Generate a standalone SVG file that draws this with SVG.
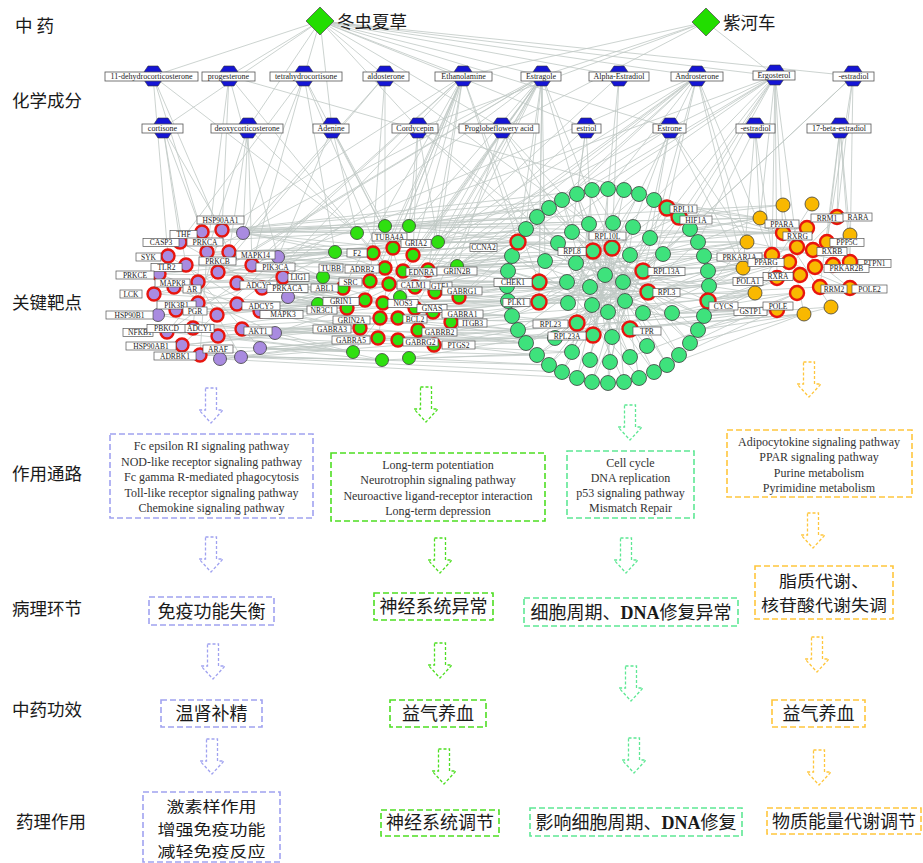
<svg xmlns="http://www.w3.org/2000/svg" xmlns:xlink="http://www.w3.org/1999/xlink" width="923" height="863" viewBox="0 0 923 863">
<style>
.e{fill:none;stroke:#bfc8c4;stroke-width:.8}
.lab{font-family:"Noto Sans CJK SC","Noto Sans",sans-serif;font-size:17.5px;fill:#1a1a1a}
.herb{fill:#22dd00;stroke:#555;stroke-width:.8}
.hx{fill:#1515d5;stroke:#333;stroke-width:.6}
.cb{fill:#fff;stroke:#555;stroke-width:.8}
.ct{font-family:"Liberation Serif",serif;font-size:8px;fill:#222;text-anchor:middle}
.tb{fill:#fff;stroke:#555;stroke-width:.7}
.tt{font-family:"Liberation Serif",serif;font-size:7.5px;fill:#222;text-anchor:middle}
.c1{fill:#a98be0;stroke:#3d3d3d;stroke-width:.8}
.c2{fill:#2fe010;stroke:#3d3d3d;stroke-width:.8}
.c3{fill:#3ee27c;stroke:#3d3d3d;stroke-width:.8}
.c4{fill:#f9b800;stroke:#3d3d3d;stroke-width:.8}
.red{stroke:#e8150e;stroke-width:2.4}
.bx{fill:none;stroke-width:1.6;stroke-dasharray:6 3}
.ar{fill:none;stroke-width:1.3;stroke-dasharray:3 2}
.pu{stroke:#a0a2f0}
.g2{stroke:#4ede22}
.g3{stroke:#5ee894}
.or{stroke:#ffc63c}
.pt{font-family:"Liberation Serif",serif;font-size:12px;fill:#333;text-anchor:middle}
.zh{font-family:"Noto Sans CJK SC","Noto Sans",sans-serif;font-size:18px;fill:#1a1a1a;text-anchor:middle}
.dna{font-family:"Liberation Serif",serif;font-weight:bold}
</style>
<defs>
<polygon id="hex" points="-5,-10 5,-10 9,-4 9,4 5,10 -5,10 -9,4 -9,-4"/>
<path id="arr" d="M-5.5 0H5.5V22H12L0 35L-12 22H-5.5Z"/>
</defs>
<rect width="923" height="863" fill="#fff"/>

<g id="connectors">
<path class="e" d="M320 21L153 76M320 21L229 76M320 21L304 76M320 21L385 76M320 21L463 76M320 21L542 76M320 21L619 76M320 21L697 76M320 21L775 76M320 21L853 76M320 21L163 128M320 21L248 128M320 21L332 128M320 21L418 128M320 21L502 128M320 21L586 128M320 21L670 128M706 22L463 76M706 22L542 76M706 22L418 128M706 22L775 76M706 22L502 128"/>
<path class="e" d="M153 76L202 232M153 76L168 256M153 76L229 252M153 76L357 233M229 76L222 230M229 76L207 252M229 76L278 257M229 76L373 253M229 76L783 233M304 76L180 242M304 76L252 265M304 76L393 248M304 76L243 233M304 76L385 268M304 76L335 252M385 76L229 252M385 76L385 226M385 76L370 281M385 76L218 272M385 76L589 224M463 76L393 248M463 76L413 255M463 76L428 270M463 76L385 268M463 76L370 281M463 76L343 288M463 76L365 300M463 76L222 230M463 76L252 265M463 76L237 283M463 76L262 288M463 76L518 242M463 76L539 282M463 76L409 226M463 76L438 242M542 76L393 248M542 76L413 255M542 76L403 271M542 76L389 284M542 76L415 287M542 76L435 292M542 76L383 303M542 76L207 252M542 76L218 272M542 76L198 282M542 76L518 242M542 76L526 229M542 76L593 251M542 76L612 248M542 76L545 261M542 76L539 282M542 76L539 302M542 76L428 270M542 76L415 308M542 76L237 304M619 76L613 223M619 76L608 189M619 76L438 242M697 76L413 255M697 76L457 266M697 76L415 287M697 76L459 297M697 76L612 248M697 76L643 271M697 76L648 292M697 76L549 208M697 76L608 189M697 76L747 242M697 76L772 255M697 76L743 268M697 76L252 265M697 76L428 270M775 76L457 266M775 76L435 292M775 76L459 297M775 76L650 238M775 76L663 254M775 76L654 200M775 76L690 229M775 76L760 218M775 76L783 233M775 76L797 247M775 76L772 255M775 76L777 278M775 76L643 271M775 76L438 242M775 76L278 257M853 76L827 242M853 76L837 217M853 76L850 262M853 76L690 229M853 76L663 254M163 128L180 242M163 128L202 232M163 128L222 230M163 128L186 265M248 128L207 252M248 128L229 252M248 128L243 233M248 128L357 233M248 128L252 265M332 128L385 226M332 128L357 233M332 128L393 248M332 128L278 257M418 128L409 226M418 128L413 255M418 128L438 242M418 128L526 229M418 128L558 243M502 128L438 242M502 128L457 266M502 128L537 217M502 128L572 232M502 128L589 224M586 128L577 194M586 128L572 232M586 128L428 270M586 128L593 251M670 128L633 227M670 128L654 200M670 128L747 242M670 128L457 266M670 128L650 238M670 128L743 268M755 128L760 218M755 128L772 255M755 128L743 268M755 128L698 242M840 128L837 217M840 128L850 235M840 128L827 242M840 128L850 262M840 128L820 287"/>
<path class="e" d="M222 230L357 233M222 230L373 253M243 233L393 248M243 233L335 252M229 252L373 253M229 252L385 268M252 265L335 252M252 265L370 281M252 265L343 288M278 257L393 248M278 257L323 277M218 272L370 281M218 272L365 300M237 283L389 284M237 283L343 288M262 288L323 277M262 288L383 303M283 277L335 252M283 277L347 308M288 297L318 304M288 297L365 300M237 304L347 308M237 304L380 318M260 311L360 328M260 311L343 288M242 329L360 328M242 329L378 338M275 333L353 352M275 333L347 308M260 348L378 338M260 348L353 352M218 336L380 318M217 315L365 300M198 282L370 281M198 303L383 303M193 328L360 328M200 355L382 360M241 357L382 360M207 252L393 248M186 265L385 268M202 232L385 226M174 287L343 288M154 294L318 304M159 274L323 277M176 310L347 308M167 332L360 328M182 345L353 352M158 315L318 304M220 359L378 338"/>
<path class="e" d="M180 242L357 233M168 256L335 252M159 274L373 253M154 294L323 277M176 310L318 304M158 315L347 308M167 332L353 352M182 345L360 328M193 328L380 318M198 303L365 300M198 282L389 284M186 265L370 281M207 252L385 268M229 252L393 248M237 283L383 303M262 288L347 308M237 304L360 328M260 311L378 338M242 329L382 360M218 336L353 352M217 315L343 288M218 272L323 277M252 265L373 253M278 257L335 252M283 277L343 288M288 297L347 308M275 333L360 328M260 348L382 360"/>
<path class="e" d="M409 226L518 242M438 242L518 242M438 242L558 243M457 266L512 256M457 266L545 261M413 255L539 282M428 270L539 282M428 270L508 271M435 292L507 286M435 292L539 302M459 297L508 301M459 297L539 282M433 312L512 316M451 322L518 330M451 322L539 302M434 345L526 343M418 330L555 338M415 308L568 303M415 287L567 282M403 271L545 261M393 248L572 232M385 226L549 208M409 226L562 200M389 284L576 263M383 303L577 323M398 318L577 323M398 340L537 355M409 358L549 365M382 360L572 352M400 297L590 287M385 268L593 251M373 253L558 243M370 281L567 282M343 288L507 286M347 308L508 301M380 318L518 330M378 338L555 338M360 328L526 343M365 300L568 303M323 277L508 271"/>
<path class="e" d="M438 242L526 229M457 266L518 242M459 297L507 286M451 322L512 316M434 345L518 330M409 358L537 355M435 292L539 282M433 312L539 302M418 330L526 343M398 340L555 338M428 270L545 261M415 287L508 271M413 255L512 256M409 226L537 217M415 308L508 301M403 271L512 256"/>
<path class="e" d="M518 242L593 251M518 242L605 275M518 242L643 271M526 229L612 248M537 217L590 287M549 208L648 292M562 200L592 305M577 194L625 301M592 190L643 271M608 189L605 275M624 190L568 303M639 194L539 282M654 200L539 302M667 208L567 282M679 217L576 263M690 229L577 323M698 242L539 282M704 256L545 261M708 271L539 302M709 286L539 282M708 301L593 251M704 316L558 243M698 330L572 232M690 343L589 224M679 355L612 248M667 365L593 251M654 372L576 263M639 378L545 261M624 382L558 243M608 383L612 248M592 382L643 271M577 378L613 223M562 372L633 227M549 365L650 238M537 355L663 254M526 343L643 271M518 330L648 292M512 316L630 255M508 301L643 271M507 286L648 292M508 271L643 313M512 256L630 329M593 251L630 329M612 248L593 335M643 271L577 323M539 282L648 292M539 302L643 271M589 224L610 362M633 227L572 352M613 223L590 360M663 254L555 338M558 243L630 357M576 263L647 346"/>
<path class="e" d="M526 229L623 282M549 208L643 313M577 194L612 337M608 189L593 335M639 194L568 303M667 208L577 323M690 229L555 338M704 256L539 302M709 286L545 261M704 316L576 263M690 343L572 232M667 365L589 224M639 378L613 223M608 383L633 227M577 378L650 238M549 365L663 254M526 343L648 292M512 316L643 271M507 286L625 301M512 256L672 313M708 301L567 282M698 330L590 287M679 355L605 275M654 372L593 251M624 382L612 248M592 382L630 255M562 372L623 282M537 355L625 301M518 330L650 238M508 301L663 254M508 271L672 313M518 242L648 292M537 217L630 329M562 200L630 357M592 190L572 352M624 190L590 360M654 200L610 362M679 217L555 338M698 242L593 335M708 271L577 323"/>
<path class="e" d="M709 286L743 268M709 286L747 242M708 271L772 255M704 256L747 242M698 242L760 218M690 229L783 233M708 301L755 293M704 316L777 278M698 330L777 310M690 343L797 293M679 217L783 205M667 208L760 218M643 271L772 255M648 292L777 278M663 254L747 242M672 313L755 293M650 238L783 233M643 271L797 247M648 292L789 262M679 355L777 310M667 365L804 314M654 200L760 218M643 313L743 268M623 282L743 268M630 255L747 242M708 301L800 275M709 286L789 262M708 271L797 247M630 329L777 310M630 357L797 293M698 242L747 242M704 256L743 268M708 271L743 268M709 286L755 293M708 301L777 278M704 316L755 293M690 229L760 218M679 217L783 233M648 292L743 268M672 313L777 310M663 254L772 255M643 271L747 242M698 330L804 314M690 343L831 307M650 238L760 218"/>
<path class="e" d="M222 230L537 217M243 233L549 208M278 257L526 229M252 265L512 256M262 288L507 286M283 277L539 282M260 311L512 316M242 329L526 343M260 348L537 355M241 357L562 372M220 359L577 378M200 355L549 365M243 233L589 224M278 257L558 243M288 297L539 302M275 333L518 330M237 304L555 338M222 230L592 190M202 232L562 200M198 282L545 261M198 303L508 301M218 336L572 352M229 252L572 232M237 283L567 282M218 272L518 242"/>
<path class="e" d="M200 355L777 310M220 359L804 314M241 357L755 293M182 345L777 278M260 348L831 307M243 233L783 205M222 230L760 218M202 232L783 233M218 336L797 293M193 328L743 268M438 242L747 242M457 266L743 268M459 297L755 293M409 226L760 218M385 226L783 233M428 270L772 255M435 292L777 278M451 322L777 310M434 345L804 314M409 358L797 293M413 255L797 247M415 287L789 262M433 312L800 275M415 308L820 287M403 271L807 228"/>
<path class="e" d="M222 230L198 303M180 242L262 288M168 256L260 311M159 274L237 304M154 294L252 265M174 287L275 333M158 315L242 329M167 332L237 283M182 345L278 257M176 310L283 277M202 232L193 328M207 252L200 355M186 265L260 348M198 282L241 357M218 272L167 332M385 226L418 330M357 233L433 312M335 252L459 297M323 277L435 292M318 304L457 266M353 352L438 242M373 253L434 345M393 248L378 338M343 288L451 322M347 308L428 270M783 205L804 314M760 218L850 288M747 242L850 262M743 268L850 235M755 293L812 204M783 233L831 307M772 255L850 288M777 278L837 217"/>
</g>

<g id="row-labels">
<text class="lab" x="15" y="32" font-size="16">中 药</text>
<text class="lab" x="12" y="107">化学成分</text>
<text class="lab" x="12" y="309">关键靶点</text>
<text class="lab" x="12" y="480">作用通路</text>
<text class="lab" x="12" y="615">病理环节</text>
<text class="lab" x="12" y="716">中药功效</text>
<text class="lab" x="16" y="828">药理作用</text>
</g>

<g id="herb-dongchongxiacao"><polygon class="herb" points="320,7 334,21 320,35 306,21"/><text class="lab" x="337" y="28" font-size="18">冬虫夏草</text></g>
<g id="herb-ziheche"><polygon class="herb" points="706,8 720,22 706,36 692,22"/><text class="lab" x="723" y="29" font-size="18">紫河车</text></g>

<g id="compounds">
<g id="cmp-11-dehydrocorticosterone"><use href="#hex" x="153" y="76" class="hx"/><rect class="cb" x="105" y="72" width="93" height="9"/><text class="ct" x="151.5" y="79">11-dehydrocorticosterone</text></g>
<g id="cmp-progesterone"><use href="#hex" x="229" y="76" class="hx"/><rect class="cb" x="202" y="72" width="53" height="9"/><text class="ct" x="228.5" y="79">progesterone</text></g>
<g id="cmp-tetrahydrocortisone"><use href="#hex" x="304" y="76" class="hx"/><rect class="cb" x="270" y="72" width="72" height="9"/><text class="ct" x="306" y="79">tetrahydrocortisone</text></g>
<g id="cmp-aldosterone"><use href="#hex" x="385" y="76" class="hx"/><rect class="cb" x="363" y="72" width="46" height="9"/><text class="ct" x="386" y="79">aldosterone</text></g>
<g id="cmp-Ethanolamine"><use href="#hex" x="463" y="76" class="hx"/><rect class="cb" x="435" y="72" width="57" height="9"/><text class="ct" x="463.5" y="79">Ethanolamine</text></g>
<g id="cmp-Estragole"><use href="#hex" x="542" y="76" class="hx"/><rect class="cb" x="521" y="72" width="40" height="9"/><text class="ct" x="541" y="79">Estragole</text></g>
<g id="cmp-Alpha-Estradiol"><use href="#hex" x="619" y="76" class="hx"/><rect class="cb" x="589" y="72" width="60" height="9"/><text class="ct" x="619" y="79">Alpha-Estradiol</text></g>
<g id="cmp-Androsterone"><use href="#hex" x="697" y="76" class="hx"/><rect class="cb" x="671" y="72" width="52" height="9"/><text class="ct" x="697" y="79">Androsterone</text></g>
<g id="cmp-Ergosterol"><use href="#hex" x="775" y="75" class="hx"/><rect class="cb" x="753" y="71" width="42" height="9"/><text class="ct" x="774" y="78">Ergosterol</text></g>
<g id="cmp-estradiol-1"><use href="#hex" x="853" y="76" class="hx"/><rect class="cb" x="833" y="72" width="41" height="9"/><text class="ct" x="853.5" y="79">-estradiol</text></g>
<g id="cmp-cortisone"><use href="#hex" x="163" y="128" class="hx"/><rect class="cb" x="142" y="124" width="41" height="9"/><text class="ct" x="162.5" y="131">cortisone</text></g>
<g id="cmp-deoxycorticosterone"><use href="#hex" x="248" y="128" class="hx"/><rect class="cb" x="211" y="124" width="72" height="9"/><text class="ct" x="247" y="131">deoxycorticosterone</text></g>
<g id="cmp-Adenine"><use href="#hex" x="332" y="128" class="hx"/><rect class="cb" x="313" y="124" width="36" height="9"/><text class="ct" x="331" y="131">Adenine</text></g>
<g id="cmp-Cordycepin"><use href="#hex" x="418" y="128" class="hx"/><rect class="cb" x="392" y="124" width="46" height="9"/><text class="ct" x="415" y="131">Cordycepin</text></g>
<g id="cmp-Proglobeflowery-acid"><use href="#hex" x="502" y="128" class="hx"/><rect class="cb" x="459" y="124" width="80" height="9"/><text class="ct" x="499" y="131">Proglobeflowery  acid</text></g>
<g id="cmp-estriol"><use href="#hex" x="586" y="128" class="hx"/><rect class="cb" x="572" y="124" width="29" height="9"/><text class="ct" x="586.5" y="131">estriol</text></g>
<g id="cmp-Estrone"><use href="#hex" x="670" y="128" class="hx"/><rect class="cb" x="653" y="124" width="33" height="9"/><text class="ct" x="669.5" y="131">Estrone</text></g>
<g id="cmp-estradiol-2"><use href="#hex" x="755" y="128" class="hx"/><rect class="cb" x="736" y="124" width="39" height="9"/><text class="ct" x="755.5" y="131">-estradiol</text></g>
<g id="cmp-17-beta-estradiol"><use href="#hex" x="840" y="128" class="hx"/><rect class="cb" x="807" y="124" width="64" height="9"/><text class="ct" x="839" y="131">17-beta-estradiol</text></g>
</g>

<g id="cluster-immune">
<circle r="6.5" class="c1 red" cx="222" cy="230"/><circle r="6.5" class="c1" cx="243" cy="233"/><circle r="6.5" class="c1 red" cx="202" cy="232"/><circle r="6.5" class="c1 red" cx="180" cy="242"/><circle r="6.5" class="c1 red" cx="207" cy="252"/><circle r="6.5" class="c1 red" cx="229" cy="252"/><circle r="6.5" class="c1 red" cx="168" cy="256"/><circle r="6.5" class="c1 red" cx="186" cy="265"/><circle r="6.5" class="c1 red" cx="252" cy="265"/><circle r="6.5" class="c1" cx="278" cy="257"/><circle r="6.5" class="c1 red" cx="218" cy="272"/><circle r="6.5" class="c1 red" cx="159" cy="274"/><circle r="6.5" class="c1 red" cx="198" cy="282"/><circle r="6.5" class="c1 red" cx="174" cy="287"/><circle r="6.5" class="c1 red" cx="237" cy="283"/><circle r="6.5" class="c1 red" cx="262" cy="288"/><circle r="6.5" class="c1 red" cx="283" cy="277"/><circle r="6.5" class="c1" cx="288" cy="297"/><circle r="6.5" class="c1 red" cx="154" cy="294"/><circle r="6.5" class="c1 red" cx="198" cy="303"/><circle r="6.5" class="c1 red" cx="176" cy="310"/><circle r="6.5" class="c1 red" cx="237" cy="304"/><circle r="6.5" class="c1 red" cx="260" cy="311"/><circle r="6.5" class="c1" cx="158" cy="315"/><circle r="6.5" class="c1 red" cx="217" cy="315"/><circle r="6.5" class="c1 red" cx="193" cy="328"/><circle r="6.5" class="c1 red" cx="167" cy="332"/><circle r="6.5" class="c1 red" cx="218" cy="336"/><circle r="6.5" class="c1 red" cx="242" cy="329"/><circle r="6.5" class="c1" cx="275" cy="333"/><circle r="6.5" class="c1 red" cx="182" cy="345"/><circle r="6.5" class="c1 red" cx="200" cy="355"/><circle r="6.5" class="c1" cx="220" cy="359"/><circle r="6.5" class="c1" cx="241" cy="357"/><circle r="6.5" class="c1" cx="260" cy="348"/>
</g>
<g id="cluster-neuro">
<circle r="6.5" class="c2" cx="385" cy="226"/><circle r="6.5" class="c2" cx="409" cy="226"/><circle r="6.5" class="c2" cx="357" cy="233"/><circle r="6.5" class="c2 red" cx="393" cy="248"/><circle r="6.5" class="c2 red" cx="373" cy="253"/><circle r="6.5" class="c2 red" cx="413" cy="255"/><circle r="6.5" class="c2" cx="438" cy="242"/><circle r="6.5" class="c2" cx="335" cy="252"/><circle r="6.5" class="c2 red" cx="428" cy="270"/><circle r="6.5" class="c2 red" cx="385" cy="268"/><circle r="6.5" class="c2 red" cx="403" cy="271"/><circle r="6.5" class="c2" cx="457" cy="266"/><circle r="6.5" class="c2" cx="323" cy="277"/><circle r="6.5" class="c2 red" cx="370" cy="281"/><circle r="6.5" class="c2 red" cx="389" cy="284"/><circle r="6.5" class="c2 red" cx="415" cy="287"/><circle r="6.5" class="c2 red" cx="435" cy="292"/><circle r="6.5" class="c2 red" cx="459" cy="297"/><circle r="6.5" class="c2 red" cx="343" cy="288"/><circle r="6.5" class="c2 red" cx="365" cy="300"/><circle r="6.5" class="c2 red" cx="383" cy="303"/><circle r="6.5" class="c2" cx="400" cy="297"/><circle r="6.5" class="c2 red" cx="415" cy="308"/><circle r="6.5" class="c2 red" cx="347" cy="308"/><circle r="6.5" class="c2 red" cx="380" cy="318"/><circle r="6.5" class="c2 red" cx="398" cy="318"/><circle r="6.5" class="c2 red" cx="433" cy="312"/><circle r="6.5" class="c2 red" cx="451" cy="322"/><circle r="6.5" class="c2 red" cx="418" cy="330"/><circle r="6.5" class="c2 red" cx="360" cy="328"/><circle r="6.5" class="c2 red" cx="378" cy="338"/><circle r="6.5" class="c2 red" cx="398" cy="340"/><circle r="6.5" class="c2 red" cx="434" cy="345"/><circle r="6.5" class="c2" cx="353" cy="352"/><circle r="6.5" class="c2" cx="382" cy="360"/><circle r="6.5" class="c2" cx="409" cy="358"/><circle r="6.5" class="c2" cx="318" cy="304"/>
</g>
<g id="cluster-cellcycle">
<circle r="7.5" class="c3" cx="709" cy="286"/><circle r="7.5" class="c3 red" cx="708" cy="301"/><circle r="7.5" class="c3" cx="704" cy="316"/><circle r="7.5" class="c3" cx="698" cy="330"/><circle r="7.5" class="c3" cx="690" cy="343"/><circle r="7.5" class="c3" cx="679" cy="355"/><circle r="7.5" class="c3" cx="667" cy="365"/><circle r="7.5" class="c3" cx="654" cy="372"/><circle r="7.5" class="c3" cx="639" cy="378"/><circle r="7.5" class="c3" cx="624" cy="382"/><circle r="7.5" class="c3" cx="608" cy="383"/><circle r="7.5" class="c3" cx="592" cy="382"/><circle r="7.5" class="c3" cx="577" cy="378"/><circle r="7.5" class="c3" cx="562" cy="372"/><circle r="7.5" class="c3" cx="549" cy="365"/><circle r="7.5" class="c3" cx="537" cy="355"/><circle r="7.5" class="c3" cx="526" cy="343"/><circle r="7.5" class="c3" cx="518" cy="330"/><circle r="7.5" class="c3" cx="512" cy="316"/><circle r="7.5" class="c3" cx="508" cy="301"/><circle r="7.5" class="c3" cx="507" cy="286"/><circle r="7.5" class="c3" cx="508" cy="271"/><circle r="7.5" class="c3" cx="512" cy="256"/><circle r="7.5" class="c3 red" cx="518" cy="242"/><circle r="7.5" class="c3" cx="526" cy="229"/><circle r="7.5" class="c3" cx="537" cy="217"/><circle r="7.5" class="c3" cx="549" cy="208"/><circle r="7.5" class="c3" cx="562" cy="200"/><circle r="7.5" class="c3" cx="577" cy="194"/><circle r="7.5" class="c3" cx="592" cy="190"/><circle r="7.5" class="c3" cx="608" cy="189"/><circle r="7.5" class="c3" cx="624" cy="190"/><circle r="7.5" class="c3" cx="639" cy="194"/><circle r="7.5" class="c3" cx="654" cy="200"/><circle r="7.5" class="c3 red" cx="667" cy="208"/><circle r="7.5" class="c3 red" cx="679" cy="217"/><circle r="7.5" class="c3" cx="690" cy="229"/><circle r="7.5" class="c3" cx="698" cy="242"/><circle r="7.5" class="c3" cx="704" cy="256"/><circle r="7.5" class="c3" cx="708" cy="271"/>
<circle r="7.5" class="c3" cx="589" cy="224"/><circle r="7.5" class="c3" cx="613" cy="223"/><circle r="7.5" class="c3" cx="633" cy="227"/><circle r="7.5" class="c3" cx="572" cy="232"/><circle r="7.5" class="c3" cx="650" cy="238"/><circle r="7.5" class="c3" cx="558" cy="243"/><circle r="7.5" class="c3 red" cx="593" cy="251"/><circle r="7.5" class="c3 red" cx="612" cy="248"/><circle r="7.5" class="c3" cx="630" cy="255"/><circle r="7.5" class="c3" cx="663" cy="254"/><circle r="7.5" class="c3" cx="545" cy="261"/><circle r="7.5" class="c3" cx="576" cy="263"/><circle r="7.5" class="c3 red" cx="643" cy="271"/><circle r="7.5" class="c3" cx="605" cy="275"/><circle r="7.5" class="c3" cx="567" cy="282"/><circle r="7.5" class="c3" cx="590" cy="287"/><circle r="7.5" class="c3" cx="623" cy="282"/><circle r="7.5" class="c3 red" cx="539" cy="282"/><circle r="7.5" class="c3 red" cx="648" cy="292"/><circle r="7.5" class="c3 red" cx="539" cy="302"/><circle r="7.5" class="c3" cx="568" cy="303"/><circle r="7.5" class="c3" cx="592" cy="305"/><circle r="7.5" class="c3" cx="608" cy="312"/><circle r="7.5" class="c3" cx="625" cy="301"/><circle r="7.5" class="c3" cx="643" cy="313"/><circle r="7.5" class="c3" cx="672" cy="313"/><circle r="7.5" class="c3 red" cx="577" cy="323"/><circle r="7.5" class="c3 red" cx="630" cy="329"/><circle r="7.5" class="c3" cx="555" cy="338"/><circle r="7.5" class="c3 red" cx="593" cy="335"/><circle r="7.5" class="c3" cx="612" cy="337"/><circle r="7.5" class="c3" cx="647" cy="346"/><circle r="7.5" class="c3" cx="572" cy="352"/><circle r="7.5" class="c3" cx="590" cy="360"/><circle r="7.5" class="c3" cx="610" cy="362"/><circle r="7.5" class="c3" cx="630" cy="357"/>
</g>
<g id="cluster-metabolism">
<circle r="7" class="c4" cx="783" cy="205"/><circle r="7" class="c4" cx="812" cy="204"/><circle r="7" class="c4" cx="760" cy="218"/><circle r="7" class="c4 red" cx="837" cy="217"/><circle r="7" class="c4 red" cx="807" cy="228"/><circle r="7" class="c4 red" cx="783" cy="233"/><circle r="7" class="c4" cx="747" cy="242"/><circle r="7" class="c4 red" cx="797" cy="247"/><circle r="7" class="c4 red" cx="827" cy="242"/><circle r="7" class="c4" cx="850" cy="235"/><circle r="7" class="c4 red" cx="813" cy="250"/><circle r="7" class="c4 red" cx="772" cy="255"/><circle r="7" class="c4 red" cx="789" cy="262"/><circle r="7" class="c4 red" cx="815" cy="267"/><circle r="7" class="c4 red" cx="833" cy="265"/><circle r="7" class="c4 red" cx="850" cy="262"/><circle r="7" class="c4" cx="743" cy="268"/><circle r="7" class="c4 red" cx="777" cy="278"/><circle r="7" class="c4 red" cx="800" cy="275"/><circle r="7" class="c4 red" cx="820" cy="287"/><circle r="7" class="c4 red" cx="850" cy="288"/><circle r="7" class="c4" cx="755" cy="293"/><circle r="7" class="c4 red" cx="797" cy="293"/><circle r="7" class="c4 red" cx="777" cy="310"/><circle r="7" class="c4" cx="804" cy="314"/><circle r="7" class="c4" cx="831" cy="307"/>
</g>

<g id="target-labels">
<g id="t-HSP90AA1"><rect class="tb" x="197" y="216" width="47" height="8"/><text class="tt" x="220.5" y="222.6">HSP90AA1</text></g>
<g id="t-THF"><rect class="tb" x="170" y="230.5" width="27" height="8"/><text class="tt" x="183.5" y="237.1">THF</text></g>
<g id="t-CASP3"><rect class="tb" x="143" y="238.5" width="36" height="8"/><text class="tt" x="161" y="245.1">CASP3</text></g>
<g id="t-PRKCA"><rect class="tb" x="187" y="238" width="36" height="8"/><text class="tt" x="205" y="244.6">PRKCA</text></g>
<g id="t-SYK"><rect class="tb" x="136" y="253" width="25" height="8"/><text class="tt" x="148.5" y="259.6">SYK</text></g>
<g id="t-MAPK14"><rect class="tb" x="236" y="251" width="39" height="8"/><text class="tt" x="255.5" y="257.6">MAPK14</text></g>
<g id="t-PRKCB"><rect class="tb" x="199" y="257" width="37" height="8"/><text class="tt" x="217.5" y="263.6">PRKCB</text></g>
<g id="t-TLR2"><rect class="tb" x="151" y="263.5" width="31" height="8"/><text class="tt" x="166.5" y="270.1">TLR2</text></g>
<g id="t-PIK3CA"><rect class="tb" x="256" y="263" width="39" height="8"/><text class="tt" x="275.5" y="269.6">PIK3CA</text></g>
<g id="t-PRKCE"><rect class="tb" x="116" y="271" width="38" height="8"/><text class="tt" x="135" y="277.6">PRKCE</text></g>
<g id="t-LIG1"><rect class="tb" x="288" y="273.5" width="21" height="8"/><text class="tt" x="298.5" y="280.1">LIG1</text></g>
<g id="t-MAPK8"><rect class="tb" x="155" y="279" width="35" height="8"/><text class="tt" x="172.5" y="285.6">MAPK8</text></g>
<g id="t-ADCY2"><rect class="tb" x="240" y="281" width="37" height="8"/><text class="tt" x="258.5" y="287.6">ADCY2</text></g>
<g id="t-AR"><rect class="tb" x="183" y="285" width="18" height="8"/><text class="tt" x="192" y="291.6">AR</text></g>
<g id="t-PRKACA"><rect class="tb" x="267" y="284.5" width="41" height="8"/><text class="tt" x="287.5" y="291.1">PRKACA</text></g>
<g id="t-LCK"><rect class="tb" x="120" y="290" width="22" height="8"/><text class="tt" x="131" y="296.6">LCK</text></g>
<g id="t-PIK3R1"><rect class="tb" x="157" y="301" width="39" height="8"/><text class="tt" x="176.5" y="307.6">PIK3R1</text></g>
<g id="t-ADCY5"><rect class="tb" x="242" y="302" width="38" height="8"/><text class="tt" x="261" y="308.6">ADCY5</text></g>
<g id="t-HSP90B1"><rect class="tb" x="106" y="311" width="47" height="8"/><text class="tt" x="129.5" y="317.6">HSP90B1</text></g>
<g id="t-PGR"><rect class="tb" x="183" y="307" width="24" height="8"/><text class="tt" x="195" y="313.6">PGR</text></g>
<g id="t-MAPK3"><rect class="tb" x="260" y="310.5" width="43" height="8"/><text class="tt" x="283" y="317.1">MAPK3</text></g>
<g id="t-NFKB1"><rect class="tb" x="123" y="328.5" width="30" height="8"/><text class="tt" x="140" y="335.1">NFKB1</text></g>
<g id="t-PBKCD"><rect class="tb" x="147" y="324.5" width="39" height="8"/><text class="tt" x="166.5" y="331.1">PBKCD</text></g>
<g id="t-ADCY1"><rect class="tb" x="185" y="324.5" width="29" height="8"/><text class="tt" x="199.5" y="331.1">ADCY1</text></g>
<g id="t-AKT1"><rect class="tb" x="244" y="327" width="28" height="8"/><text class="tt" x="258" y="333.6">AKT1</text></g>
<g id="t-HSP90AB1"><rect class="tb" x="126" y="342" width="50" height="8"/><text class="tt" x="151" y="348.6">HSP90AB1</text></g>
<g id="t-ARAF"><rect class="tb" x="203" y="345" width="30" height="8"/><text class="tt" x="218" y="351.6">ARAF</text></g>
<g id="t-ADRBK1"><rect class="tb" x="154" y="352" width="42" height="8"/><text class="tt" x="175" y="358.6">ADRBK1</text></g>

<g id="t-TUBA4A"><rect class="tb" x="372" y="233" width="35" height="8"/><text class="tt" x="389.5" y="239.6">TUBA4A</text></g>
<g id="t-GRIA2"><rect class="tb" x="401" y="239.5" width="30" height="8"/><text class="tt" x="416" y="246.1">GRIA2</text></g>
<g id="t-CCNA2"><rect class="tb" x="470" y="243.5" width="27" height="8"/><text class="tt" x="483.5" y="250.1">CCNA2</text></g>
<g id="t-F2"><rect class="tb" x="347" y="249" width="20" height="8"/><text class="tt" x="357" y="255.6">F2</text></g>
<g id="t-TUBB"><rect class="tb" x="319" y="264" width="24" height="8"/><text class="tt" x="331" y="270.6">TUBB</text></g>
<g id="t-ADRB2"><rect class="tb" x="345" y="265" width="34" height="8"/><text class="tt" x="362" y="271.6">ADRB2</text></g>
<g id="t-EDNRA"><rect class="tb" x="406" y="268" width="31" height="8"/><text class="tt" x="421.5" y="274.6">EDNRA</text></g>
<g id="t-GRIN2B"><rect class="tb" x="437" y="267" width="40" height="8"/><text class="tt" x="457" y="273.6">GRIN2B</text></g>
<g id="t-SRC"><rect class="tb" x="339" y="278" width="23" height="8"/><text class="tt" x="350.5" y="284.6">SRC</text></g>
<g id="t-GTF1"><rect class="tb" x="428" y="282" width="24" height="8"/><text class="tt" x="440" y="288.6">GTF1</text></g>
<g id="t-CALM1"><rect class="tb" x="397" y="281" width="33" height="8"/><text class="tt" x="413.5" y="287.6">CALM1</text></g>
<g id="t-GABRG1"><rect class="tb" x="442" y="287" width="40" height="8"/><text class="tt" x="462" y="293.6">GABRG1</text></g>
<g id="t-ABL1"><rect class="tb" x="311" y="284" width="27" height="8"/><text class="tt" x="324.5" y="290.6">ABL1</text></g>
<g id="t-GRIN1"><rect class="tb" x="323" y="297.5" width="36" height="8"/><text class="tt" x="341" y="304.1">GRIN1</text></g>
<g id="t-NOS3"><rect class="tb" x="388" y="299.5" width="30" height="8"/><text class="tt" x="403" y="306.1">NOS3</text></g>
<g id="t-GNAS"><rect class="tb" x="417" y="304.5" width="30" height="8"/><text class="tt" x="432" y="311.1">GNAS</text></g>
<g id="t-GABRA1"><rect class="tb" x="442" y="310" width="41" height="8"/><text class="tt" x="462.5" y="316.6">GABRA1</text></g>
<g id="t-NR3C1"><rect class="tb" x="307" y="306" width="30" height="8"/><text class="tt" x="322" y="312.6">NR3C1</text></g>
<g id="t-GRIN2A"><rect class="tb" x="333" y="316" width="37" height="8"/><text class="tt" x="351.5" y="322.6">GRIN2A</text></g>
<g id="t-BCL2"><rect class="tb" x="403" y="315" width="24" height="8"/><text class="tt" x="415" y="321.6">BCL2</text></g>
<g id="t-ITGB3"><rect class="tb" x="458" y="319" width="29" height="8"/><text class="tt" x="472.5" y="325.6">ITGB3</text></g>
<g id="t-GABRA3"><rect class="tb" x="313" y="325" width="38" height="8"/><text class="tt" x="332" y="331.6">GABRA3</text></g>
<g id="t-GABRB2"><rect class="tb" x="422" y="328" width="35" height="8"/><text class="tt" x="439.5" y="334.6">GABRB2</text></g>
<g id="t-GABRA5"><rect class="tb" x="332" y="336" width="38" height="8"/><text class="tt" x="351" y="342.6">GABRA5</text></g>
<g id="t-GABRG2"><rect class="tb" x="403" y="338" width="35" height="8"/><text class="tt" x="420.5" y="344.6">GABRG2</text></g>
<g id="t-PTGS2"><rect class="tb" x="442" y="341" width="33" height="8"/><text class="tt" x="458.5" y="347.6">PTGS2</text></g>

<g id="t-RPL11"><rect class="tb" x="670" y="205" width="27" height="8"/><text class="tt" x="683.5" y="211.6">RPL11</text></g>
<g id="t-HIF1A"><rect class="tb" x="680" y="216" width="32" height="8"/><text class="tt" x="696" y="222.6">HIF1A</text></g>
<g id="t-RPL10L"><rect class="tb" x="589" y="232" width="37" height="8"/><text class="tt" x="607.5" y="238.6">RPL10L</text></g>
<g id="t-RPL8"><rect class="tb" x="558" y="247.5" width="28" height="8"/><text class="tt" x="572" y="254.1">RPL8</text></g>
<g id="t-RPL13A"><rect class="tb" x="648" y="267.5" width="37" height="8"/><text class="tt" x="666.5" y="274.1">RPL13A</text></g>
<g id="t-CHEK1"><rect class="tb" x="494" y="278.5" width="38" height="8"/><text class="tt" x="513" y="285.1">CHEK1</text></g>
<g id="t-RPL3"><rect class="tb" x="653" y="288.5" width="27" height="8"/><text class="tt" x="666.5" y="295.1">RPL3</text></g>
<g id="t-PLK1"><rect class="tb" x="503" y="298.5" width="27" height="8"/><text class="tt" x="516.5" y="305.1">PLK1</text></g>
<g id="t-RPL23"><rect class="tb" x="533" y="320" width="35" height="8"/><text class="tt" x="550.5" y="326.6">RPL23</text></g>
<g id="t-RPL23A"><rect class="tb" x="548" y="332" width="38" height="8"/><text class="tt" x="567" y="338.6">RPL23A</text></g>
<g id="t-TPR"><rect class="tb" x="633" y="327" width="28" height="8"/><text class="tt" x="647" y="333.6">TPR</text></g>

<g id="t-PPARA"><rect class="tb" x="765" y="220" width="34" height="8"/><text class="tt" x="782" y="226.6">PPARA</text></g>
<g id="t-RARA"><rect class="tb" x="842" y="213" width="30" height="8"/><text class="tt" x="858" y="219.6">RARA</text></g>
<g id="t-RRM1"><rect class="tb" x="811" y="214" width="32" height="8"/><text class="tt" x="827" y="220.6">RRM1</text></g>
<g id="t-RXRG"><rect class="tb" x="783" y="232" width="29" height="8"/><text class="tt" x="797.5" y="238.6">RXRG</text></g>
<g id="t-PPP5C"><rect class="tb" x="830" y="238.5" width="34" height="8"/><text class="tt" x="847" y="245.1">PPP5C</text></g>
<g id="t-RXRB"><rect class="tb" x="817" y="247.5" width="30" height="8"/><text class="tt" x="832" y="254.1">RXRB</text></g>
<g id="t-PRKAR1A"><rect class="tb" x="717" y="253" width="45" height="8"/><text class="tt" x="739.5" y="259.6">PRKAR1A</text></g>
<g id="t-PTPN1"><rect class="tb" x="858" y="259.5" width="33" height="8"/><text class="tt" x="874.5" y="266.1">PTPN1</text></g>
<g id="t-PPARG"><rect class="tb" x="748" y="258.5" width="36" height="8"/><text class="tt" x="766" y="265.1">PPARG</text></g>
<g id="t-PRKAR2B"><rect class="tb" x="824" y="264.5" width="45" height="8"/><text class="tt" x="846.5" y="271.1">PRKAR2B</text></g>
<g id="t-RXRA"><rect class="tb" x="763" y="272.5" width="30" height="8"/><text class="tt" x="778" y="279.1">RXRA</text></g>
<g id="t-POLA1"><rect class="tb" x="733" y="277.5" width="30" height="8"/><text class="tt" x="748" y="284.1">POLA1</text></g>
<g id="t-RRM2"><rect class="tb" x="821" y="285" width="26" height="8"/><text class="tt" x="834" y="291.6">RRM2</text></g>
<g id="t-POLE2"><rect class="tb" x="852" y="285" width="35" height="8"/><text class="tt" x="869.5" y="291.6">POLE2</text></g>
<g id="t-GSTP1"><rect class="tb" x="734" y="307.5" width="33" height="8"/><text class="tt" x="750.5" y="314.1">GSTP1</text></g>
<g id="t-CYCS"><rect class="tb" x="709" y="302" width="29" height="8"/><text class="tt" x="723.5" y="308.6">CYCS</text></g>
<g id="t-POLE"><rect class="tb" x="763" y="302" width="30" height="8"/><text class="tt" x="778" y="308.6">POLE</text></g>
</g>

<g id="flow-arrows">
<use href="#arr" class="ar pu" x="211" y="388"/>
<use href="#arr" class="ar g2" x="426" y="387"/>
<use href="#arr" class="ar g3" x="630" y="405"/>
<use href="#arr" class="ar or" x="809" y="362"/>
<use href="#arr" class="ar pu" x="211" y="537"/>
<use href="#arr" class="ar g2" x="440" y="538"/>
<use href="#arr" class="ar g3" x="626" y="538"/>
<use href="#arr" class="ar or" x="813" y="513"/>
<use href="#arr" class="ar pu" x="213" y="644"/>
<use href="#arr" class="ar g2" x="440" y="643"/>
<use href="#arr" class="ar g3" x="631" y="666"/>
<use href="#arr" class="ar or" x="817" y="637"/>
<use href="#arr" class="ar pu" x="212" y="739"/>
<use href="#arr" class="ar g2" x="444" y="749"/>
<use href="#arr" class="ar g3" x="634" y="738"/>
<use href="#arr" class="ar or" x="819" y="750"/>
</g>

<g id="pathway-immune"><rect class="bx pu" x="110" y="434" width="203" height="84"/>
<text class="pt" x="211.5" y="450">Fc epsilon RI signaling pathway</text>
<text class="pt" x="211.5" y="465.5">NOD-like receptor signaling pathway</text>
<text class="pt" x="211.5" y="481">Fc gamma R-mediated phagocytosis</text>
<text class="pt" x="211.5" y="496.5">Toll-like receptor signaling pathway</text>
<text class="pt" x="211.5" y="512">Chemokine signaling pathway</text></g>
<g id="pathway-neuro"><rect class="bx g2" x="331" y="453" width="214" height="68"/>
<text class="pt" x="438" y="468.5">Long-term potentiation</text>
<text class="pt" x="438" y="484">Neurotrophin signaling pathway</text>
<text class="pt" x="438" y="499.5">Neuroactive ligand-receptor interaction</text>
<text class="pt" x="438" y="515">Long-term depression</text></g>
<g id="pathway-cellcycle"><rect class="bx g3" x="567" y="451" width="127" height="67"/>
<text class="pt" x="630.5" y="466.5">Cell cycle</text>
<text class="pt" x="630.5" y="481.5">DNA replication</text>
<text class="pt" x="630.5" y="496.5">p53 signaling pathway</text>
<text class="pt" x="630.5" y="511.5">Mismatch Repair</text></g>
<g id="pathway-metabolism"><rect class="bx or" x="727" y="430" width="185" height="67"/>
<text class="pt" x="819" y="446">Adipocytokine signaling pathway</text>
<text class="pt" x="819" y="461">PPAR signaling pathway</text>
<text class="pt" x="819" y="476.5">Purine metabolism</text>
<text class="pt" x="819" y="492">Pyrimidine metabolism</text></g>

<g id="patho-immune"><rect class="bx pu" x="149" y="597" width="125" height="28"/><text class="zh" x="211.5" y="617.5">免疫功能失衡</text></g>
<g id="patho-neuro"><rect class="bx g2" x="374" y="593" width="119" height="27"/><text class="zh" x="433.5" y="613">神经系统异常</text></g>
<g id="patho-cellcycle"><rect class="bx g3" x="524" y="598" width="214" height="28"/><text class="zh" x="631" y="618.5">细胞周期、<tspan class="dna">DNA</tspan>修复异常</text></g>
<g id="patho-metabolism"><rect class="bx or" x="755" y="566" width="138" height="53"/>
<text class="zh" transform="translate(824 587) scale(1 .88)">脂质代谢、</text>
<text class="zh" transform="translate(824 610.5) scale(1 .88)">核苷酸代谢失调</text></g>

<g id="effect-immune"><rect class="bx pu" x="161" y="700" width="101" height="27"/><text class="zh" x="211.5" y="720">温肾补精</text></g>
<g id="effect-neuro"><rect class="bx g2" x="390" y="700" width="96" height="27"/><text class="zh" x="438" y="720">益气养血</text></g>
<g id="effect-metabolism"><rect class="bx or" x="772" y="700" width="93" height="27"/><text class="zh" x="818.5" y="720">益气养血</text></g>

<g id="pharm-immune"><rect class="bx pu" x="143" y="792" width="137" height="70"/>
<text class="zh" transform="translate(211.5 812) scale(1 .84)">激素样作用</text>
<text class="zh" transform="translate(211.5 834.5) scale(1 .84)">增强免疫功能</text>
<text class="zh" transform="translate(211.5 857) scale(1 .84)">减轻免疫反应</text></g>
<g id="pharm-neuro"><rect class="bx g2" x="381" y="810" width="118" height="26"/><text class="zh" x="440" y="829">神经系统调节</text></g>
<g id="pharm-cellcycle"><rect class="bx g3" x="530" y="808" width="212" height="28"/><text class="zh" x="636" y="828.5">影响细胞周期、<tspan class="dna">DNA</tspan>修复</text></g>
<g id="pharm-metabolism"><rect class="bx or" x="767" y="808" width="154" height="26"/><text class="zh" x="844" y="827.5">物质能量代谢调节</text></g>
</svg>
